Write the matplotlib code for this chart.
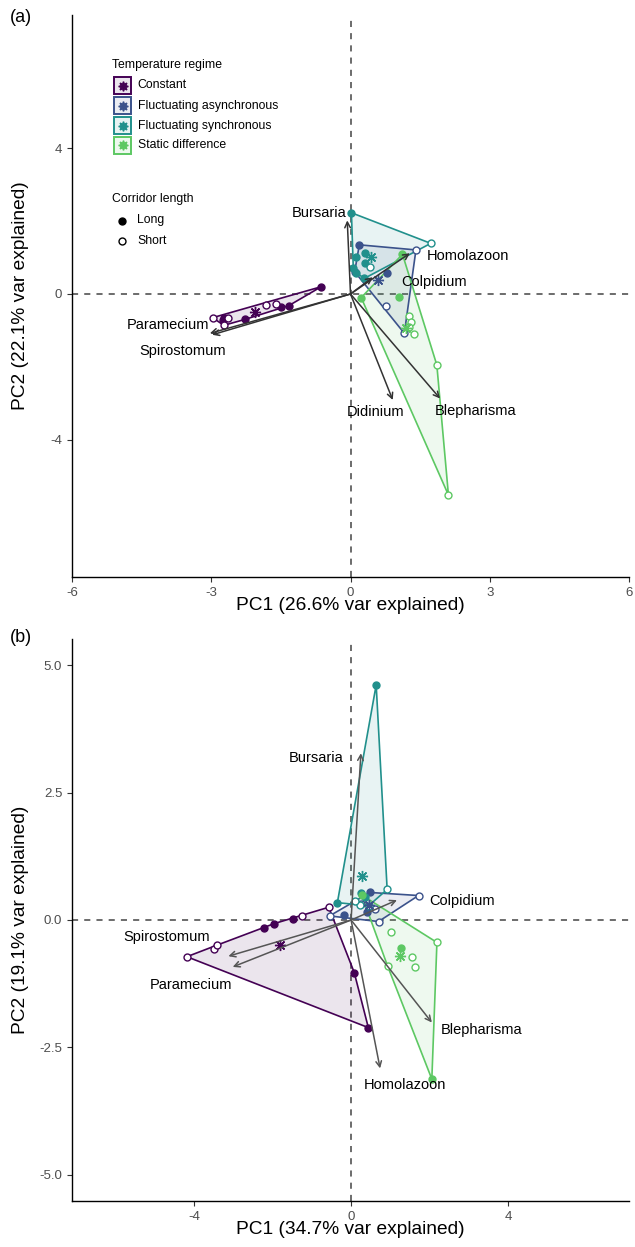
import numpy as np
import matplotlib
matplotlib.use("Agg")
import matplotlib.pyplot as plt
from matplotlib.patches import Polygon, Rectangle

plt.rcParams['font.family'] = ['Liberation Sans', 'DejaVu Sans']
plt.rcParams['axes.unicode_minus'] = False

# === Grupos ===
regimes = ["Constant", "Fluctuating asynchronous", "Fluctuating synchronous", "Static difference"]
colors = ["#440154", "#3B528B", "#21908C", "#5DC863"]

# === Panel (a): scores ===
a_x = [-0.63, -1.33, -1.49, -2.28, -2.72, -2.75, -2.97, -2.73, -2.64, -1.81, -1.60,
       0.19, 0.79, 0.09, 1.41, 0.77, 1.16,
       0.02, 0.32, 0.32, 0.11, 0.06, 0.11, 0.30, 1.73, 0.41,
       1.12, 0.23, 1.04, 1.27, 1.31, 1.27, 1.36, 1.86, 2.11]
a_y = [0.20, -0.32, -0.35, -0.70, -0.67, -0.71, -0.65, -0.86, -0.67, -0.30, -0.28,
       1.35, 0.59, 0.61, 1.21, -0.32, -1.08,
       2.23, 1.12, 0.84, 1.01, 0.71, 0.59, 0.43, 1.39, 0.75,
       1.09, -0.10, -0.07, -0.60, -0.76, -0.90, -1.10, -1.95, -5.52]
a_reg = [0] * 11 + [1] * 6 + [2] * 9 + [3] * 9
a_long = [1, 1, 1, 1, 1, 1, 0, 0, 0, 0, 0,
          1, 1, 1, 0, 0, 0,
          1, 1, 1, 1, 1, 1, 1, 0, 0,
          1, 1, 1, 0, 0, 0, 0, 0, 0]
a_cx = [-2.06, 0.60, 0.45, 1.20]
a_cy = [-0.49, 0.38, 1.01, -0.94]

# === Panel (a): loadings ===
a_species = ["Bursaria", "Homolazoon", "Colpidium", "Paramecium", "Spirostomum", "Didinium", "Blepharisma"]
a_load_x = [-0.07, 1.28, 0.48, -3.03, -2.98, 0.91, 1.93]
a_load_y = [2.02, 1.12, 0.46, -1.08, -1.12, -2.91, -2.87]
a_lab_x = [-0.67, 2.54, 1.81, -3.93, -3.61, 0.55, 2.69]
a_lab_y = [2.23, 1.04, 0.33, -0.85, -1.57, -3.23, -3.21]

# === Panel (b): scores ===
b_x = [-2.22, -1.96, -1.49, 0.08, 0.44, -4.19, -3.51, -3.41, -1.26, -0.57,
       -0.17, 0.48, 0.40, -0.55, 1.72, 0.70, 0.25, 0.60,
       0.64, -0.35, 0.25, 0.35, 0.92, 0.22, 0.45, 0.10,
       0.27, 1.28, 2.06, 2.19, 1.02, 1.55, 1.62, 0.93]
b_y = [-0.15, -0.07, 0.01, -1.03, -2.11, -0.72, -0.56, -0.49, 0.08, 0.25,
       0.09, 0.54, 0.15, 0.08, 0.48, -0.03, 0.32, 0.22,
       4.61, 0.34, 0.52, 0.45, 0.60, 0.30, 0.28, 0.38,
       0.49, -0.54, -3.12, -0.44, -0.23, -0.73, -0.93, -0.90]
b_reg = [0] * 10 + [1] * 8 + [2] * 8 + [3] * 8
b_long = [1, 1, 1, 1, 1, 0, 0, 0, 0, 0,
          1, 1, 1, 0, 0, 0, 0, 0,
          1, 1, 1, 1, 0, 0, 0, 0,
          1, 1, 1, 0, 0, 0, 0, 0]
b_cx = [-1.81, 0.45, 0.27, 1.25]
b_cy = [-0.49, 0.30, 0.86, -0.71]

# === Panel (b): loadings ===
b_species = ["Bursaria", "Colpidium", "Spirostomum", "Paramecium", "Homolazoon", "Blepharisma"]
b_load_x = [0.25, 1.17, -3.13, -3.02, 0.74, 2.06]
b_load_y = [3.27, 0.39, -0.71, -0.92, -2.91, -2.01]
b_lab_x = [-0.88, 2.83, -4.70, -4.08, 1.38, 3.32]
b_lab_y = [3.17, 0.38, -0.34, -1.27, -3.24, -2.16]


def convex_hull(pts):
    pts = sorted(set(pts))
    if len(pts) < 3:
        return pts
    def cross(o, a, b):
        return (a[0] - o[0]) * (b[1] - o[1]) - (a[1] - o[1]) * (b[0] - o[0])
    lower, upper = [], []
    for p in pts:
        while len(lower) >= 2 and cross(lower[-2], lower[-1], p) <= 0:
            lower.pop()
        lower.append(p)
    for p in reversed(pts):
        while len(upper) >= 2 and cross(upper[-2], upper[-1], p) <= 0:
            upper.pop()
        upper.append(p)
    return lower[:-1] + upper[:-1]


def dibujar_panel(ax, xs, ys, reg, lng, cx, cy, species, lx, ly, tx, ty, arrow_col):
    xs, ys, reg, lng = map(np.asarray, (xs, ys, reg, lng))
    ax.axhline(0, color="#444444", lw=1.1, ls=(0, (4, 4)), zorder=1)
    ax.axvline(0, color="#444444", lw=1.1, ls=(0, (4, 4)), zorder=1)
    for g, col in enumerate(colors):
        m = reg == g
        h = convex_hull(list(zip(xs[m], ys[m])))
        ax.add_patch(Polygon(h, closed=True, facecolor=col, alpha=0.1, edgecolor="none", zorder=2))
        ax.add_patch(Polygon(h, closed=True, facecolor="none", edgecolor=col, lw=1.2, zorder=3))
        ml = m & (lng == 1)
        ms = m & (lng == 0)
        ax.plot(xs[ml], ys[ml], "o", color=col, ms=5, zorder=4, ls="none")
        ax.plot(xs[ms], ys[ms], "o", mfc="white", mec=col, mew=1.0, ms=5, zorder=4, ls="none")
        ax.plot(cx[g], cy[g], marker=(8, 2, 0), color=col, ms=8, mew=1.0, zorder=5, ls="none")
    for i, sp in enumerate(species):
        ax.annotate("", xy=(lx[i], ly[i]), xytext=(0, 0),
                    arrowprops=dict(arrowstyle="->", color=arrow_col, lw=1.1,
                                    mutation_scale=10, shrinkA=0, shrinkB=0),
                    zorder=6)
        ax.text(tx[i], ty[i], sp, ha="center", va="center", fontsize=10.5, zorder=7)
    for s in ["top", "right"]:
        ax.spines[s].set_visible(False)
    for s in ["left", "bottom"]:
        ax.spines[s].set_linewidth(1.0)
    ax.tick_params(length=3.5, width=0.8, color="#333333", labelsize=9.5, labelcolor="#4D4D4D")


fig = plt.figure(figsize=(6.35, 12.47), dpi=100)
W, H = 635, 1247
ax_a = fig.add_axes([72 / W, 1 - 577 / H, 557 / W, 562 / H])
ax_b = fig.add_axes([72 / W, 1 - 1201 / H, 557 / W, 562 / H])

dibujar_panel(ax_a, a_x, a_y, a_reg, a_long, a_cx, a_cy, a_species,
              a_load_x, a_load_y, a_lab_x, a_lab_y, "#333333")
ax_a.set_xlim(-6, 6)
ax_a.set_ylim(-7.77, 7.66)
ax_a.set_xticks([-6, -3, 0, 3, 6])
ax_a.set_yticks([-4, 0, 4])
ax_a.set_xlabel("PC1 (26.6% var explained)", fontsize=13.8)
ax_a.set_ylabel("PC2 (22.1% var explained)", fontsize=13.8)
ax_a.xaxis.set_label_coords(0.5, -0.036)
ax_a.yaxis.set_label_coords(-0.078, 0.5)

dibujar_panel(ax_b, b_x, b_y, b_reg, b_long, b_cx, b_cy, b_species,
              b_load_x, b_load_y, b_lab_x, b_lab_y, "#555555")
ax_b.set_xlim(-7.12, 7.09)
ax_b.set_ylim(-5.51, 5.51)
ax_b.set_xticks([-4, 0, 4])
ax_b.set_yticks([-5, -2.5, 0, 2.5, 5])
ax_b.set_yticklabels(["-5.0", "-2.5", "0.0", "2.5", "5.0"])
ax_b.set_xlabel("PC1 (34.7% var explained)", fontsize=13.8)
ax_b.set_ylabel("PC2 (19.1% var explained)", fontsize=13.8)
ax_b.xaxis.set_label_coords(0.5, -0.036)
ax_b.yaxis.set_label_coords(-0.078, 0.5)

# === Leyenda dentro del panel (a) ===
def fx(px):
    return (px - 72) / 557

def fy(py):
    return 1 - (py - 15) / 562

ax_a.text(fx(112), fy(65), "Temperature regime", transform=ax_a.transAxes, fontsize=8.8, va="center")
for i, (name, col) in enumerate(zip(regimes, colors)):
    yc = 85.5 + 20 * i
    ax_a.add_patch(Rectangle((fx(114), fy(yc + 8.5)), 17 / 557, 17 / 562, transform=ax_a.transAxes,
                             facecolor=col, alpha=0.1, edgecolor="none"))
    ax_a.add_patch(Rectangle((fx(114), fy(yc + 8.5)), 17 / 557, 17 / 562, transform=ax_a.transAxes,
                             facecolor="none", edgecolor=col, lw=1.4))
    ax_a.plot(fx(122.5), fy(yc), marker=(8, 1, 0), color=col, ms=7, transform=ax_a.transAxes)
    ax_a.text(fx(137.5), fy(yc), name, transform=ax_a.transAxes, fontsize=8.8, va="center")

ax_a.text(fx(112), fy(199), "Corridor length", transform=ax_a.transAxes, fontsize=8.8, va="center")
ax_a.plot(fx(122), fy(220.5), "o", color="black", ms=5, transform=ax_a.transAxes)
ax_a.text(fx(137.5), fy(220.5), "Long", transform=ax_a.transAxes, fontsize=8.8, va="center")
ax_a.plot(fx(122), fy(240.5), "o", mfc="white", mec="black", mew=1.0, ms=5, transform=ax_a.transAxes)
ax_a.text(fx(137.5), fy(240.5), "Short", transform=ax_a.transAxes, fontsize=8.8, va="center")

fig.text(10 / W, 1 - 18 / H, "(a)", fontsize=13, va="center", ha="left")
fig.text(10 / W, 1 - 638 / H, "(b)", fontsize=13, va="center", ha="left")

fig.savefig("out.png", dpi=100)
